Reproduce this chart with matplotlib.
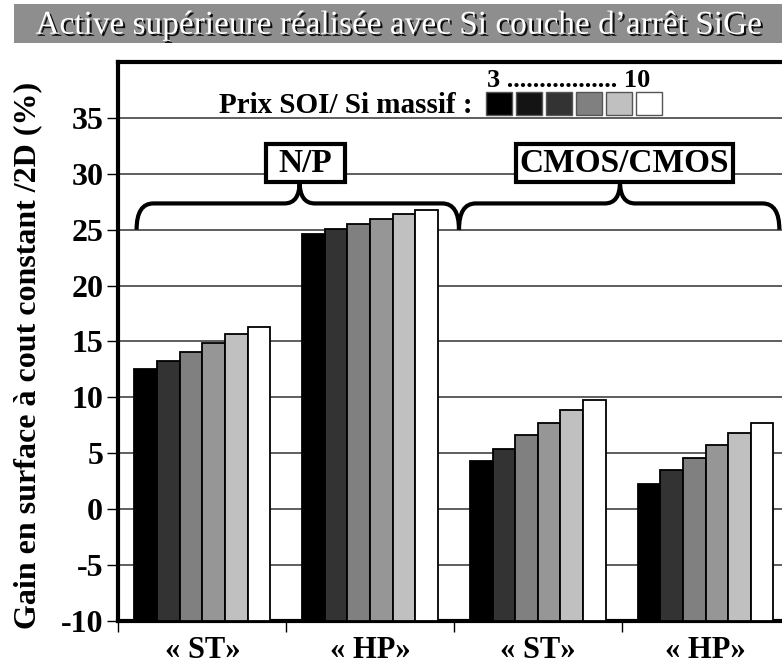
import matplotlib
matplotlib.use('Agg')
import matplotlib.pyplot as plt
import matplotlib.patheffects as pe
from matplotlib.path import Path
from matplotlib.patches import PathPatch, Rectangle

plt.rcParams['font.family'] = ['Liberation Serif', 'DejaVu Serif']
plt.rcParams['font.weight'] = 'bold'

# Gain per scenario, one series per SOI / bulk Si price ratio (3 -> 10)
categories = ['« ST»', '« HP»', '« ST»', '« HP»']
series = [
    [12.55, 24.65, 4.35, 2.25],
    [13.25, 25.1, 5.4, 3.5],
    [14.05, 25.55, 6.65, 4.6],
    [14.9, 26.0, 7.75, 5.7],
    [15.65, 26.4, 8.85, 6.85],
    [16.3, 26.8, 9.8, 7.75],
]
bar_colors = ['#000000', '#333333', '#808080', '#969696', '#c0c0c0', '#ffffff']
swatch_colors = ['#000000', '#141414', '#333333', '#808080', '#c0c0c0', '#ffffff']
groups = ['N/P', 'CMOS/CMOS']
yticks = [-10, -5, 0, 5, 10, 15, 20, 25, 30, 35]

fig = plt.figure(figsize=(7.82, 6.64), dpi=100)
ax = fig.add_axes([0.1515, 0.0648, 0.858, 0.8418])

# grey title banner with shadowed white text
fig.patches.append(Rectangle((0.018, 0.935), 0.982, 0.059, transform=fig.transFigure,
                             facecolor='#8e8e8e', edgecolor='none'))
fig.text(0.51, 0.962, 'Active supérieure réalisée avec Si couche d\u2019arrêt SiGe',
         ha='center', va='center', color='white', fontsize=24, fontweight='normal',
         path_effects=[pe.withSimplePatchShadow(offset=(1.5, -1.5), shadow_rgbFace='black', alpha=0.9)])

# bars, drawn from -10 (bottom of the axis)
width = 0.135
n = len(series)
for i, vals in enumerate(series):
    xs = [c + 0.5 + (i - (n - 1) / 2) * width for c in range(len(categories))]
    heights = [v + 10 for v in vals]
    ax.bar(xs, heights, width, bottom=-10, color=bar_colors[i], edgecolor='black',
           linewidth=1.3, zorder=3)

ax.set_xlim(0, 4)
ax.set_ylim(-10, 40)
ax.set_yticks(yticks)
ax.set_yticklabels([str(t) for t in yticks], fontsize=23, fontweight='bold')
ax.yaxis.grid(True, color='#333333', linewidth=1.1, zorder=0)
ax.set_axisbelow(True)

ax.set_xticks([0, 1, 2, 3, 4])
ax.set_xticklabels([])
ax.set_xticks([0.5, 1.5, 2.5, 3.5], minor=True)
ax.set_xticklabels(categories, minor=True, fontsize=22, fontweight='bold')
ax.tick_params(axis='x', which='minor', length=0, pad=11)
ax.tick_params(axis='x', which='major', length=8, width=1)
ax.tick_params(axis='y', length=8, width=1, pad=3)

for side in ['left', 'bottom', 'top']:
    ax.spines[side].set_linewidth(3)
ax.spines['right'].set_visible(False)

ax.set_ylabel('Gain en surface à cout constant /2D (%)', fontsize=23, fontweight='bold')
ax.yaxis.set_label_coords(-0.113, 0.475)


def brace(x0, xm, x1, y0=25.0, yh=27.35, yt=29.3, rx=0.1, rt=0.09):
    verts = [(x0, y0), (x0, yh), (x0 + rx, yh), (xm - rt, yh), (xm, yh), (xm, yt),
             (xm, yh), (xm + rt, yh), (x1 - rx, yh), (x1, yh), (x1, y0)]
    codes = [Path.MOVETO, Path.CURVE3, Path.CURVE3, Path.LINETO, Path.CURVE3, Path.CURVE3,
             Path.CURVE3, Path.CURVE3, Path.LINETO, Path.CURVE3, Path.CURVE3]
    ax.add_patch(PathPatch(Path(verts, codes), facecolor='none', edgecolor='black',
                           linewidth=3, zorder=4, clip_on=False))


brace(0.108, 1.08, 2.03)
brace(2.03, 2.99, 3.94)

# group labels in boxes above the braces
boxes = [(0.878, 1.351), (2.369, 3.664)]
for name, (bx0, bx1) in zip(groups, boxes):
    ax.add_patch(Rectangle((bx0, 29.3), bx1 - bx0, 3.35, facecolor='white', edgecolor='black',
                           linewidth=3, zorder=5, clip_on=False))
    ax.text((bx0 + bx1) / 2, 30.95, name, ha='center', va='center', fontsize=24,
            fontweight='bold', zorder=6)

# price ratio key
ax.text(2.114, 35.45, 'Prix SOI/ Si massif :', ha='right', va='baseline', fontsize=21,
        fontweight='bold', zorder=6)
ax.text(2.2, 37.75, '3 ................. 10', ha='left', va='baseline', fontsize=19,
        fontweight='bold', zorder=6)
for i, c in enumerate(swatch_colors):
    ax.add_patch(Rectangle((2.19 + i * 0.179, 35.25), 0.155, 2.1, facecolor=c,
                           edgecolor='#555555', linewidth=1, zorder=6, clip_on=False))

fig.savefig('out.png', dpi=100)
